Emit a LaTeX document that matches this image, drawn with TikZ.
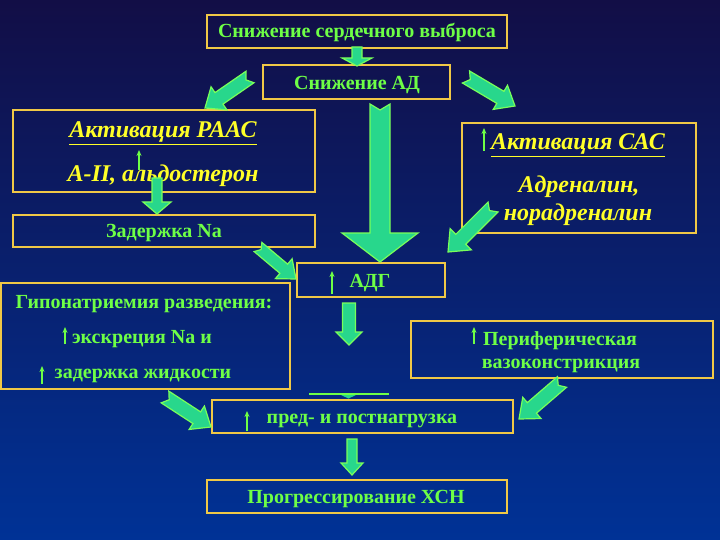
\documentclass[tikz,border=0pt]{standalone}
\usepackage{fontspec}
\setmainfont{Liberation Serif}
\usetikzlibrary{calc,arrows.meta}
\definecolor{bgtop}{RGB}{18,14,70}
\definecolor{bgmid}{RGB}{12,32,112}
\definecolor{bgbot}{RGB}{0,50,150}
\definecolor{gold}{RGB}{240,200,70}
\definecolor{lgreen}{RGB}{110,255,70}
\definecolor{yel}{RGB}{255,255,40}
\definecolor{afill}{RGB}{40,215,140}
\definecolor{aedge}{RGB}{120,255,90}
\tikzset{
 box/.style={draw=gold, line width=1.8pt, inner sep=0pt},
 gtext/.style={text=lgreen, font=\bfseries\fontsize{20}{23}\selectfont, anchor=base, inner sep=0pt},
 ytext/.style={text=yel, font=\bfseries\itshape\fontsize{24}{28}\selectfont, anchor=base, inner sep=0pt},
 blk/.style={fill=afill, draw=aedge, line width=1.2pt, line join=miter},
 uparr/.style={draw=lgreen, line width=1.2pt, -{Stealth[length=6pt,width=5pt]}},
}
\newcommand\blkarrow[6]{%
 \coordinate (hb) at ($(#2)!#5!(#1)$);
 \coordinate (nt) at ($(#1)!#6!(#2)$);
 \filldraw[blk] ($(#1)!#3!90:(#2)$) -- ($(hb)!#3!-90:(#1)$) -- ($(hb)!#4!-90:(#1)$) -- (#2) -- ($(hb)!#4!90:(#1)$) -- ($(hb)!#3!90:(#1)$) -- ($(#1)!#3!-90:(#2)$) -- (nt) -- cycle;}
\begin{document}
\begin{tikzpicture}[x=1pt,y=-1pt]
\useasboundingbox (0,0) rectangle (720,540);
\shade[top color=bgtop, middle color=bgmid, bottom color=bgbot] (0,0) rectangle (720,540);

% boxes
\node[box, minimum width=300pt, minimum height=33pt] (b1) at (357,31.5) {};
\node[box, minimum width=187pt, minimum height=34pt] (b2) at (356.5,82) {};
\node[box, minimum width=302pt, minimum height=82pt] (raas) at (164,151) {};
\node[box, minimum width=302pt, minimum height=32pt] (na) at (164,231) {};
\node[box, minimum width=234pt, minimum height=110pt] (sas) at (579,178) {};
\node[box, minimum width=289pt, minimum height=106pt] (hypo) at (145.5,336) {};
\node[box, minimum width=148pt, minimum height=34pt] (adg) at (371,280) {};
\node[box, minimum width=302pt, minimum height=57pt] (peri) at (562,349.5) {};
\node[box, minimum width=301pt, minimum height=33pt] (pred) at (362.5,416.5) {};
\node[box, minimum width=300pt, minimum height=33pt] (prog) at (357,496.5) {};

% texts
\node[gtext] (t1) at (357,38) {Снижение сердечного выброса};
\node[gtext] (t2) at (357,90) {Снижение АД};
\node[ytext] (t3) at (163,138) {\underline{Активация РААС}};
\node[ytext] (t4) at (163,182) {А-II, альдостерон};
\node[gtext] (t5) at (164,237) {Задержка Na};
\node[ytext] (t6) at (578,150) {\underline{Активация САС}};
\node[ytext] (t7) at (579,193) {Адреналин,};
\node[ytext] (t8) at (578,221) {норадреналин};
\node[gtext] (t9) at (144,308) {Гипонатриемия разведения:};
\node[gtext] (t10) at (142,343) {экскреция Na и};
\node[gtext] (t11) at (143,378) {задержка жидкости};
\node[gtext] (t12) at (370,287) {АДГ};
\node[gtext] (t13) at (560,345) {Периферическая};
\node[gtext] (t14) at (561,368) {вазоконстрикция};
\node[gtext] (t15) at (362,423) {пред- и постнагрузка};
\node[gtext] (t16) at (356,503) {Прогрессирование ХСН};

% block arrow end points
\coordinate (a1s) at (357,47);  \coordinate (a1e) at (357,66);
\coordinate (a2s) at (250,77);  \coordinate (a2e) at (205,108);
\coordinate (a3s) at (466,77);  \coordinate (a3e) at (515,106);
\coordinate (a4s) at (380,104); \coordinate (a4e) at (380,262);
\coordinate (a5s) at (157,178); \coordinate (a5e) at (157,214);
\coordinate (a6s) at (258,247); \coordinate (a6e) at (296,279);
\coordinate (a7s) at (493,207); \coordinate (a7e) at (448,252);
\coordinate (a8s) at (349,303); \coordinate (a8e) at (349,345);
\coordinate (a9s) at (165,397); \coordinate (a9e) at (211,427);
\coordinate (a10s) at (562,382); \coordinate (a10e) at (519,419);
\coordinate (a11s) at (352,439); \coordinate (a11e) at (352,475);

\blkarrow{a1s}{a1e}{5pt}{15pt}{8pt}{0pt}
\blkarrow{a2s}{a2e}{7pt}{14pt}{17pt}{5pt}
\blkarrow{a3s}{a3e}{7pt}{14pt}{17pt}{5pt}
\blkarrow{a4s}{a4e}{10pt}{38pt}{29pt}{6pt}
\blkarrow{a5s}{a5e}{5pt}{14pt}{12pt}{0pt}
\blkarrow{a6s}{a6e}{6pt}{13pt}{16pt}{4pt}
\blkarrow{a7s}{a7e}{7pt}{15pt}{18pt}{5pt}
\blkarrow{a8s}{a8e}{6.5pt}{13pt}{13pt}{0pt}
\blkarrow{a9s}{a9e}{7pt}{14pt}{17pt}{5pt}
\blkarrow{a10s}{a10e}{7pt}{14pt}{17pt}{5pt}
\blkarrow{a11s}{a11e}{5pt}{11pt}{12pt}{0pt}

% flat arrow line
\coordinate (fl1) at (309,394); \coordinate (fl2) at (389,394);
\draw[draw=lgreen, line width=2.2pt] (fl1) -- (fl2);
\fill[afill] (341,395) -- (356,395) -- (348.5,398.5) -- cycle;

% thin up arrows
\coordinate (u1s) at (139,170); \coordinate (u1e) at (139,150);
\coordinate (u2s) at (484,151); \coordinate (u2e) at (484,128);
\coordinate (u3s) at (65,344);  \coordinate (u3e) at (65,327);
\coordinate (u4s) at (42,384);  \coordinate (u4e) at (42,366);
\coordinate (u5s) at (332,294); \coordinate (u5e) at (332,271);
\coordinate (u6s) at (474,344); \coordinate (u6e) at (474,327);
\coordinate (u7s) at (247,431); \coordinate (u7e) at (247,411);
\foreach \i in {1,...,7} {\draw[uparr] (u\i s) -- (u\i e);}
\end{tikzpicture}
\end{document}
